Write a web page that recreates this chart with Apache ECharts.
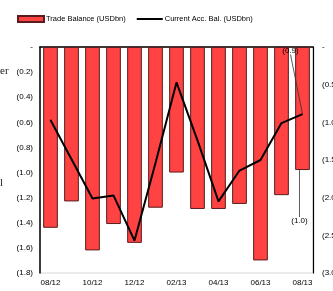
<!DOCTYPE html>
<html style="height: 100%">
<head>
<meta charset="utf-8">
</head>
<body style="height: 100%; margin: 0; background: #fff">
<div id="container" style="width: 333px; height: 291px"></div>
<script type="text/javascript" src="https://cdn.jsdelivr.net/npm/echarts@6/dist/echarts.min.js"></script>
<script type="text/javascript">
var months = ['08/12', '09/12', '10/12', '11/12', '12/12', '01/13', '02/13', '03/13', '04/13', '05/13', '06/13', '07/13', '08/13'];
var tradeBalance = [-1.44, -1.23, -1.62, -1.41, -1.56, -1.28, -1.00, -1.29, -1.29, -1.25, -1.70, -1.18, -0.98];
var currentAcc = [-0.97, -1.49, -2.01, -1.97, -2.57, -1.54, -0.47, -1.24, -2.05, -1.64, -1.50, -1.01, -0.89];
var seriesNames = ['Trade Balance (USDbn)', 'Current Acc. Bal. (USDbn)'];

var dom = document.getElementById('container');
var myChart = echarts.init(dom);

function fmt(v) {
    if (Math.abs(v) < 1e-9) return '-';
    return '(' + Math.abs(v).toFixed(1) + ')';
}

var lastIdx = months.length - 1;

// only the last point of each series gets a value label with a leader line
function withLastLabel(arr, pos) {
    return arr.map(function (v, i) {
        if (i != lastIdx) return v;
        return {
            value: v,
            label: { show: true, position: pos, fontSize: 8, color: '#000', formatter: function (p) { return fmt(p.value); } },
            labelLine: { show: true, lineStyle: { color: '#333', width: 0.8 } }
        };
    });
}

var option = {
    animation: false,
    textStyle: { fontFamily: 'Liberation Sans, Arial, sans-serif' },
    legend: {
        left: 12,
        top: 10,
        itemWidth: 26,
        itemHeight: 6,
        itemGap: 10,
        textStyle: { fontSize: 7.5, color: '#000', padding: [0, 0, 0, -3] },
        data: [
            { name: seriesNames[0], icon: 'rect' },
            { name: seriesNames[1], itemStyle: { color: 'rgba(0,0,0,0)', borderWidth: 0 } }
        ]
    },
    grid: {
        left: 40,
        right: 20,
        top: 47,
        bottom: 18,
        outerBoundsMode: 'none',
        containLabel: false,
        show: true,
        borderColor: '#d6d6d6',
        borderWidth: 1
    },
    xAxis: {
        type: 'category',
        data: months,
        boundaryGap: true,
        axisLine: { lineStyle: { color: '#000', width: 1.5 } },
        axisTick: { show: false },
        axisLabel: { interval: 1, fontSize: 8, color: '#000', margin: 6 }
    },
    yAxis: [{
        type: 'value',
        min: -1.8,
        max: 0,
        interval: 0.2,
        axisLine: { show: true, lineStyle: { color: '#000', width: 1.5 } },
        axisTick: { show: false },
        splitLine: { show: false },
        axisLabel: { fontSize: 8, color: '#000', margin: 7, formatter: fmt }
    }, {
        type: 'value',
        min: -3,
        max: 0,
        interval: 0.5,
        position: 'right',
        axisLine: { show: true, lineStyle: { color: '#000', width: 1.2 } },
        axisTick: { show: false },
        splitLine: { show: false },
        axisLabel: { fontSize: 8, color: '#000', margin: 9, formatter: fmt }
    }],
    series: [{
        name: seriesNames[0],
        type: 'bar',
        yAxisIndex: 0,
        barWidth: '70%',
        itemStyle: { color: '#ff4242', borderColor: '#5a1c1c', borderWidth: 1 },
        labelLayout: function (p) {
            if (p.dataIndex != lastIdx) return {};
            return { dx: -3, dy: 42 };
        },
        data: withLastLabel(tradeBalance, 'bottom')
    }, {
        name: seriesNames[1],
        type: 'line',
        yAxisIndex: 1,
        symbol: 'circle',
        symbolSize: 1,
        lineStyle: { color: '#000', width: 2 },
        itemStyle: { color: '#000' },
        labelLayout: function (p) {
            if (p.dataIndex != lastIdx) return {};
            return { dx: -12, dy: -54 };
        },
        data: withLastLabel(currentAcc, 'top')
    }],
    graphic: [
        { type: 'text', left: 0, top: 66, style: { text: 'er', fontFamily: 'Liberation Serif, serif', fontSize: 11, fill: '#222' } },
        { type: 'text', left: 0, top: 178, style: { text: 'l', fontFamily: 'Liberation Serif, serif', fontSize: 11, fill: '#222' } }
    ]
};

myChart.setOption(option);
</script>
</body>
</html>
